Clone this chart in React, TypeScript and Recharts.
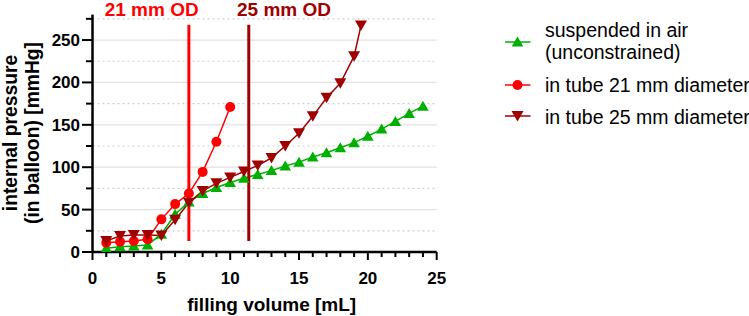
import React from 'react';
import { LineChart, Line, XAxis, YAxis, CartesianGrid, ReferenceLine, Legend } from 'recharts';

// ---- data ----
const airVolumes = [1, 2, 3, 4, 5, 6, 7, 8, 9, 10, 11, 12, 13, 14, 15, 16, 17, 18, 19, 20, 21, 22, 23, 24];
const airPressure = [4.5, 6.3, 7, 8.3, 21, 44.5, 59, 69, 76, 82, 87, 91.5, 96, 101.5, 106, 112, 117, 123, 129, 136.5, 145, 154, 163.5, 172];

const tube21Volumes = [1, 2, 3, 4, 5, 6, 7, 8, 9, 10];
const tube21Pressure = [11, 12, 13, 15, 38.5, 56.5, 69, 94.5, 130, 171];

const tube25Volumes = [1, 2, 3, 4, 5, 6, 7, 8, 9, 10, 11, 12, 13, 14, 15, 16, 17, 18, 19, 19.5];
const tube25Pressure = [13, 19, 20, 20, 19.5, 38, 58, 72, 81, 88, 95, 102, 111, 125, 140, 160, 182, 199, 231, 267];

const odLineVolumes = [7, 11.35];
const odLineRange = [13, 268];
const odLabels = ['21 mm OD', '25 mm OD'];

const seriesNames = ['suspended in air', '(unconstrained)', 'in tube 21 mm diameter', 'in tube 25 mm diameter'];

const xTicks = Array.from({ length: 26 }, (_, i) => i);
const yTicks = [0, 25, 50, 75, 100, 125, 150, 175, 200, 225, 250, 275];
const yMajorGrid = [50, 100, 150, 200, 250];
const yMinorGrid = [25, 75, 125, 175, 225, 275];

const xTitle = 'filling volume [mL]';
const yTitle = ['internal pressure', '(in balloon) [mmHg]'];

const GREEN = '#00B000';
const RED = '#FF0000';
const DARK = '#A00000';
const FONT = '"Liberation Sans", Arial, Helvetica, sans-serif';

const zip = (xs: number[], ys: number[]) => xs.map((v, i) => ({ v, p: ys[i] }));
const airData = zip(airVolumes, airPressure);
const tube21Data = zip(tube21Volumes, tube21Pressure);
const tube25Data = zip(tube25Volumes, tube25Pressure);

const triUp = (cx: number, cy: number) => `M${cx},${cy - 5.5} L${cx + 5.8},${cy + 4.5} L${cx - 5.8},${cy + 4.5} Z`;
const triDown = (cx: number, cy: number) => `M${cx - 6},${cy - 5} L${cx + 6},${cy - 5} L${cx},${cy + 5.5} Z`;

const UpDot = (props: any) => {
  const { cx, cy, index } = props;
  if (cx == null || cy == null) return <g key={index} />;
  return <path key={index} d={triUp(cx, cy)} fill={GREEN} />;
};
const DownDot = (props: any) => {
  const { cx, cy, index } = props;
  if (cx == null || cy == null) return <g key={index} />;
  return <path key={index} d={triDown(cx, cy)} fill={DARK} />;
};
const CircleDot = (props: any) => {
  const { cx, cy, index } = props;
  if (cx == null || cy == null) return <g key={index} />;
  return <circle key={index} cx={cx} cy={cy} r={5} fill={RED} />;
};

const XTick = (props: any) => {
  const { x, y, payload } = props;
  const v = payload.value;
  const major = v % 5 === 0;
  return (
    <g>
      <line x1={x} x2={x} y1={y} y2={y + (major ? 8 : 5)} stroke="#000" strokeWidth={2} />
      {major && (
        <text x={x} y={y + 32} textAnchor="middle" fontFamily={FONT} fontWeight="bold" fontSize={17} fill="#000">
          {v}
        </text>
      )}
    </g>
  );
};

const YTick = (props: any) => {
  const { x, y, payload } = props;
  const v = payload.value;
  const major = v % 50 === 0;
  return (
    <g>
      <line x1={x - (major ? 10.5 : 6.5)} x2={x} y1={y} y2={y} stroke="#000" strokeWidth={2} />
      {major && (
        <text x={x - 12.5} y={y + 6} textAnchor="end" fontFamily={FONT} fontWeight="bold" fontSize={17} fill="#000">
          {v}
        </text>
      )}
    </g>
  );
};

const Overlay = () => (
  <svg width={749} height={316} style={{ position: 'absolute', left: 0, top: 0, overflow: 'visible' }}>
    {/* top OD labels */}
    <text x={151.7} y={15.5} textAnchor="middle" fontFamily={FONT} fontWeight="bold" fontSize={19} fill={RED}>
      {odLabels[0]}
    </text>
    <text x={284} y={15.5} textAnchor="middle" fontFamily={FONT} fontWeight="bold" fontSize={19} fill={DARK}>
      {odLabels[1]}
    </text>
    {/* axis titles */}
    <text x={271.7} y={311} textAnchor="middle" fontFamily={FONT} fontWeight="bold" fontSize={19} fill="#000">
      {xTitle}
    </text>
    <text transform="translate(17,133) rotate(-90)" textAnchor="middle" fontFamily={FONT} fontWeight="bold" fontSize={19.3} fill="#000">
      {yTitle[0]}
    </text>
    <text transform="translate(38.5,133) rotate(-90)" textAnchor="middle" fontFamily={FONT} fontWeight="bold" fontSize={19.3} fill="#000">
      {yTitle[1]}
    </text>
    {/* legend */}
    <line x1={505} x2={530.5} y1={42} y2={42} stroke={GREEN} strokeWidth={1.5} />
    <path d={triUp(517.5, 42)} fill={GREEN} />
    <text x={545} y={36.7} fontFamily={FONT} fontSize={19.5} fill="#000">{seriesNames[0]}</text>
    <text x={545} y={59.3} fontFamily={FONT} fontSize={19.5} fill="#000">{seriesNames[1]}</text>

    <line x1={505} x2={530.5} y1={85} y2={85} stroke={RED} strokeWidth={1.5} />
    <circle cx={517.5} cy={85} r={5} fill={RED} />
    <text x={545} y={91.7} fontFamily={FONT} fontSize={19.5} fill="#000">{seriesNames[2]}</text>

    <line x1={505} x2={530.5} y1={116} y2={116} stroke={DARK} strokeWidth={1.5} />
    <path d={triDown(517.5, 116)} fill={DARK} />
    <text x={545} y={124.3} fontFamily={FONT} fontSize={19.5} fill="#000">{seriesNames[3]}</text>
  </svg>
);

export default function App() {
  return (
    <div style={{ position: 'absolute', left: 0, top: 0, width: 749, height: 316, background: '#fff' }}>
      <LineChart width={749} height={316} margin={{ top: 14.6, right: 312.3, bottom: 0, left: 0 }}>
        <CartesianGrid horizontal vertical={false} horizontalValues={yMajorGrid} stroke="#e2e2e2" strokeWidth={1.2} />
        <CartesianGrid horizontal vertical={false} horizontalValues={yMinorGrid} stroke="#cfcfcf" strokeWidth={1.2} strokeDasharray="2 3" />
        <XAxis
          dataKey="v"
          type="number"
          domain={[0, 25]}
          ticks={xTicks}
          interval={0}
          height={64}
          tickSize={0}
          tickMargin={0}
          tickLine={false}
          axisLine={{ stroke: '#000', strokeWidth: 2.5 }}
          tick={<XTick />}
          allowDataOverflow
        />
        <YAxis
          type="number"
          domain={[0, 280]}
          ticks={yTicks}
          interval={0}
          width={92.5}
          tickSize={0}
          tickMargin={0}
          tickLine={false}
          axisLine={{ stroke: '#000', strokeWidth: 2.5 }}
          tick={<YTick />}
          allowDataOverflow
        />
        <Line data={airData} dataKey="p" stroke={GREEN} strokeWidth={1.5} dot={UpDot} activeDot={false} isAnimationActive={false} />
        <Line data={tube21Data} dataKey="p" stroke={RED} strokeWidth={1.5} dot={CircleDot} activeDot={false} isAnimationActive={false} />
        <Line data={tube25Data} dataKey="p" stroke={DARK} strokeWidth={1.5} dot={DownDot} activeDot={false} isAnimationActive={false} />
        <ReferenceLine
          segment={[{ x: odLineVolumes[0], y: odLineRange[0] }, { x: odLineVolumes[0], y: odLineRange[1] }]}
          stroke={RED}
          strokeWidth={3}
        />
        <ReferenceLine
          segment={[{ x: odLineVolumes[1], y: odLineRange[0] }, { x: odLineVolumes[1], y: odLineRange[1] }]}
          stroke={DARK}
          strokeWidth={3}
        />
        <Legend
          layout="vertical"
          align="center"
          verticalAlign="middle"
          wrapperStyle={{ left: 0, top: 0, width: 749, height: 316, pointerEvents: 'none' }}
          content={() => <Overlay />}
        />
      </LineChart>
    </div>
  );
}
